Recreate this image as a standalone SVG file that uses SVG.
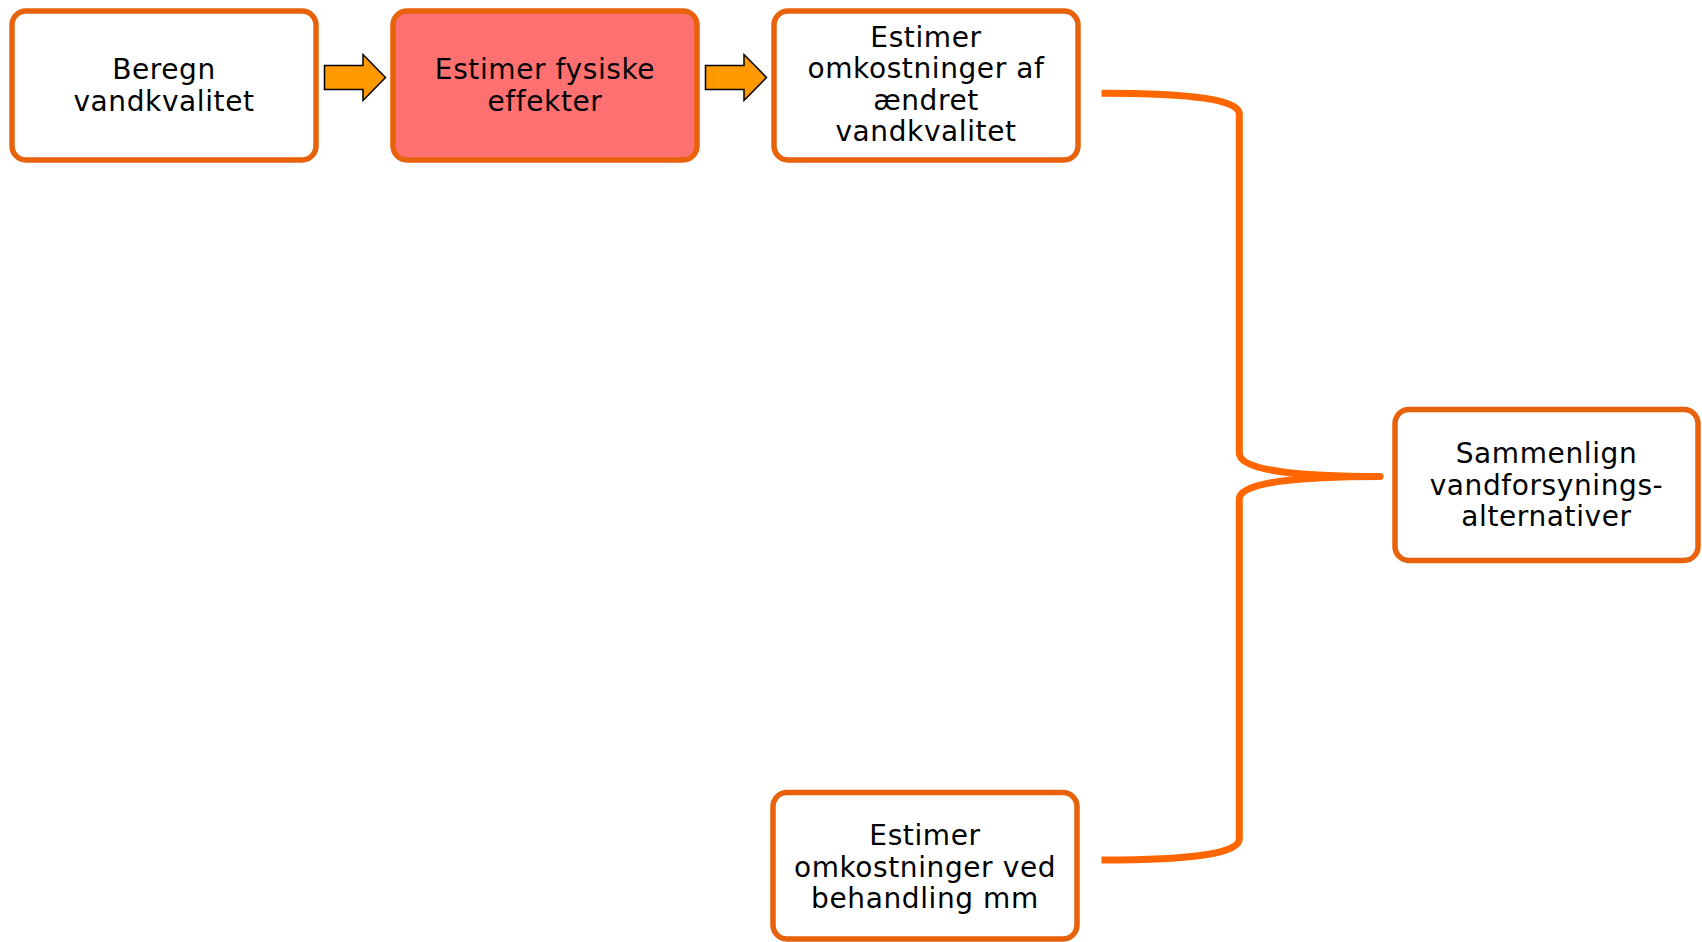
<svg xmlns="http://www.w3.org/2000/svg" width="1702" height="942" viewBox="0 0 1702 942">
<style>
.box{fill:#FFFFFF;stroke:#E8620C;stroke-width:5.5}
.hl{fill:#FF7171}
.t{font-family:"DejaVu Sans","Verdana",sans-serif;font-size:28px;letter-spacing:0.6px;fill:#000000;text-anchor:middle}
.arr{fill:#FF9900;stroke:#000000;stroke-width:1.5;stroke-linejoin:miter}
.con{fill:none;stroke:#FF6600;stroke-width:7}
</style>
<rect width="1702" height="942" fill="#FFFFFF"/>
<g id="n1">
<rect class="box" x="12" y="11" width="304" height="149" rx="14"/>
<text class="t" x="164" y="79">Beregn</text>
<text class="t" x="164" y="110.5">vandkvalitet</text>
</g>
<g id="n2">
<rect class="box hl" x="393" y="11" width="304" height="149" rx="14"/>
<text class="t" x="545" y="79">Estimer fysiske</text>
<text class="t" x="545" y="110.5">effekter</text>
</g>
<g id="n3">
<rect class="box" x="774" y="11" width="304" height="149" rx="14"/>
<text class="t" x="926" y="46.7">Estimer</text>
<text class="t" x="926" y="78.3">omkostninger af</text>
<text class="t" x="926" y="110">ændret</text>
<text class="t" x="926" y="141">vandkvalitet</text>
</g>
<g id="n4">
<rect class="box" x="773" y="792.5" width="304" height="146.5" rx="14"/>
<text class="t" x="925" y="845">Estimer</text>
<text class="t" x="925" y="876.5">omkostninger ved</text>
<text class="t" x="925" y="908">behandling mm</text>
</g>
<g id="n5">
<rect class="box" x="1395" y="409.5" width="303" height="151" rx="14"/>
<text class="t" x="1546.5" y="463.3">Sammenlign</text>
<text class="t" x="1546.5" y="494.5">vandforsynings-</text>
<text class="t" x="1546.5" y="526">alternativer</text>
</g>
<g id="connectors">
<path class="arr" d="M324.5,65.5 L363,65.5 L363,54.5 L385.5,77.5 L363,100.5 L363,89.5 L324.5,89.5 Z"/>
<path class="arr" d="M705.5,65.5 L744,65.5 L744,54.5 L766.5,77.5 L744,100.5 L744,89.5 L705.5,89.5 Z"/>
<path class="con" d="M1101.5,93.3 C1195,93.3 1239.3,100 1239.3,114 L1239.3,453 C1239.3,471 1300,476.5 1380,476.5"/>
<path class="con" d="M1380,476.5 C1300,476.5 1239.3,482 1239.3,499 L1239.3,839 C1239.3,853 1195,860 1101.5,860" />
<circle cx="1380" cy="476.5" r="3.5" fill="#FF6600"/>
</g>
</svg>
